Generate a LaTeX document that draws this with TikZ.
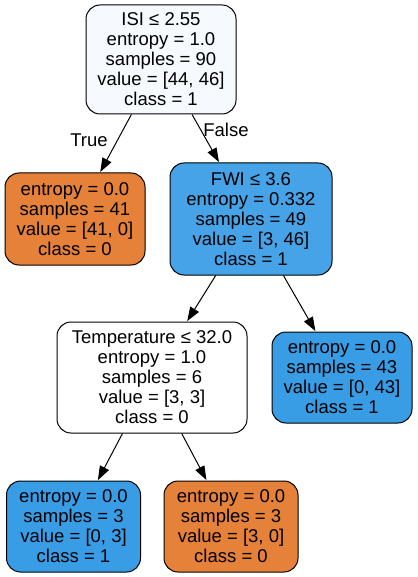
\documentclass[tikz,border=0pt]{standalone}
\usepackage{fontspec}
\setmainfont{Liberation Sans}
\usetikzlibrary{arrows.meta}
\definecolor{orangeleaf}{HTML}{E58139}
\definecolor{blueleaf}{HTML}{399DE5}
\definecolor{bluefwi}{HTML}{46A3E7}
\definecolor{blueroot}{HTML}{F6FAFE}
\tikzset{
  treenode/.style={draw=black, line width=1pt, rounded corners=14pt, align=center,
    inner sep=0pt, font=\fontsize{18.5}{20}\selectfont},
  edge/.style={line width=1pt, -{Triangle[length=14pt,width=10pt]}, shorten >=0.5pt},
  edgelabel/.style={font=\fontsize{18.5}{20}\selectfont, inner sep=0pt}
}
\begin{document}
\begin{tikzpicture}[x=1pt,y=-1pt]
\useasboundingbox (0,0) rectangle (417,577);
\node[treenode, fill=blueroot, minimum width=150pt, minimum height=109pt] (root) at (161,59.5)
  {ISI ≤ 2.55\\entropy = 1.0\\samples = 90\\value = [44, 46]\\class = 1};
\node[treenode, fill=orangeleaf, minimum width=140pt, minimum height=92pt] (l1) at (75,219)
  {entropy = 0.0\\samples = 41\\value = [41, 0]\\class = 0};
\node[treenode, fill=bluefwi, minimum width=162pt, minimum height=112pt] (fwi) at (251,219)
  {FWI ≤ 3.6\\entropy = 0.332\\samples = 49\\value = [3, 46]\\class = 1};
\node[treenode, fill=white, minimum width=190pt, minimum height=111pt] (temp) at (152,377.5)
  {Temperature ≤ 32.0\\entropy = 1.0\\samples = 6\\value = [3, 3]\\class = 0};
\node[treenode, fill=blueleaf, minimum width=140pt, minimum height=91pt] (r2) at (342,377.5)
  {entropy = 0.0\\samples = 43\\value = [0, 43]\\class = 1};
\node[treenode, fill=blueleaf, minimum width=134pt, minimum height=91pt] (b1) at (73.5,526.5)
  {entropy = 0.0\\samples = 3\\value = [0, 3]\\class = 1};
\node[treenode, fill=orangeleaf, minimum width=134pt, minimum height=91pt] (b2) at (231,526.5)
  {entropy = 0.0\\samples = 3\\value = [3, 0]\\class = 0};
\draw[edge] (root) -- (l1);
\draw[edge] (root) -- (fwi);
\draw[edge] (fwi) -- (temp);
\draw[edge] (fwi) -- (r2);
\draw[edge] (temp) -- (b1);
\draw[edge] (temp) -- (b2);
\node[edgelabel] (truelbl) at (89,140) {True};
\node[edgelabel] (falselbl) at (226,130) {False};
\end{tikzpicture}
\end{document}
